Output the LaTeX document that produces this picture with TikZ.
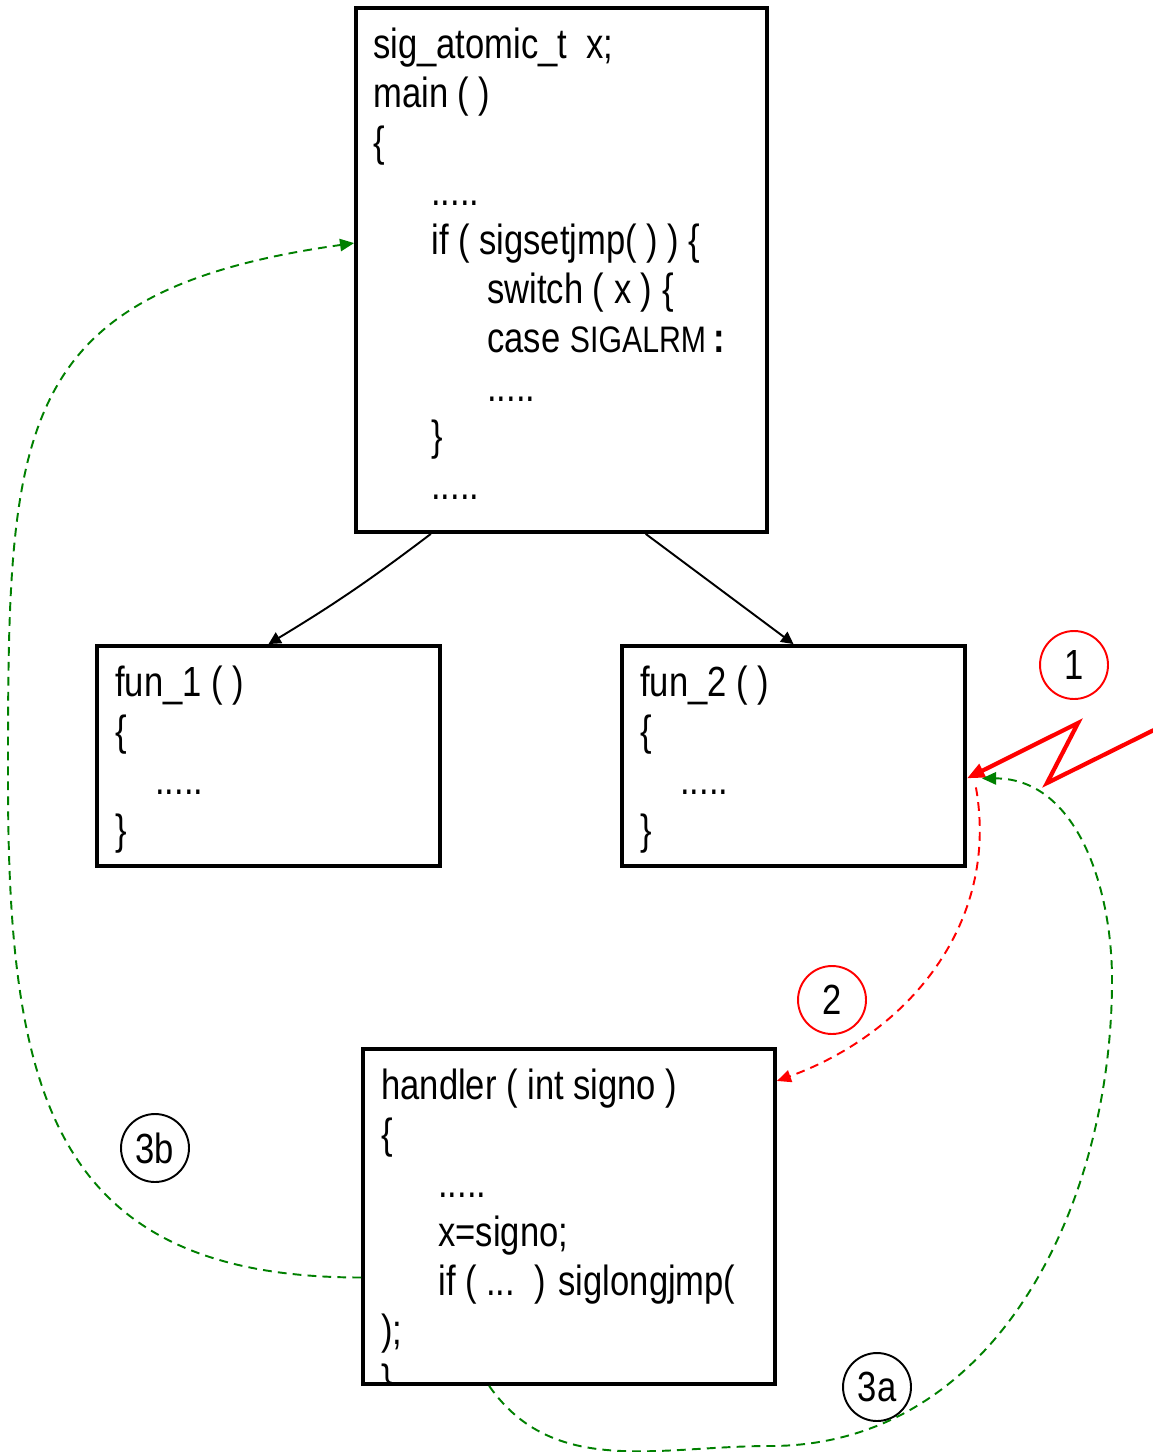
\documentclass[tikz,border=0pt]{standalone}
\usepackage{fontspec}
\setmainfont{Liberation Sans}[FakeStretch=0.82]
\usetikzlibrary{arrows.meta,fit,calc}

\begin{document}
\begin{tikzpicture}[x=0.02cm, y=-0.02cm,
    box/.style = {draw, line width=2.2pt, inner sep=0pt},
    code/.style = {align=left, inner sep=0pt, anchor=base west, font=\fontsize{24}{27.9}\selectfont},
    tag/.style = {draw, circle, line width=1.1pt, minimum size=1.36cm, inner sep=0pt, font=\fontsize{24}{28}\selectfont},
    call/.style = {line width=1.1pt, -{Triangle[length=7pt,width=7pt]}},
    jump/.style = {line width=1.1pt, dash pattern=on 5pt off 3.5pt, -{Triangle[length=8pt,width=7pt]}}]
    \useasboundingbox (0,0) rectangle (1152,1452);

    \node[box, fit={(356,8)(767,532)}] (main) {};
    \node[box, fit={(97,646)(440,866)}] (f1) {};
    \node[box, fit={(622,646)(965,866)}] (f2) {};
    \node[box, fit={(363,1049)(775,1384)}] (h) {};

    % code nodes are placed by the baseline of their last line
    \node[code] (maintext) at (373,500) {sig\_atomic\_t\ \ x;\\ main ( )\\ \{\\
        \hspace*{1.16cm}.....\\ \hspace*{1.16cm}if ( sigsetjmp( ) ) \{\\
        \hspace*{2.28cm}switch ( x ) \{\\
        \hspace*{2.28cm}case {\fontsize{21}{27.9}\selectfont SIGALRM}\,\textbf{:}\\
        \hspace*{2.28cm}.....\\ \hspace*{1.16cm}\}\\ \hspace*{1.16cm}.....};
    \node[code] (f1text) at (115,844) {fun\_1 ( )\\ \{\\ \hspace*{0.8cm}.....\\ \}};
    \node[code] (f2text) at (640,844) {fun\_2 ( )\\ \{\\ \hspace*{0.8cm}.....\\ \}};
    \begin{scope}
        \clip (h.north west) rectangle (h.south east);
        \node[code] (htext) at (381,1394) {handler ( int signo )\\ \{\\
            \hspace*{1.14cm}.....\\ \hspace*{1.14cm}x=signo;\\
            \hspace*{1.14cm}if ( ...\ \ ) siglongjmp(\\ );\\ \}};
    \end{scope}

    \node[tag, draw=red] (t1) at (1074,665) {1};
    \node[tag, draw=red] (t2) at (832,1000) {2};
    \node[tag] (t3b) at (155,1148) {3b};
    \node[tag] (t3a) at (877,1387) {3a};

    \draw[call] ($(main.south west)!0.185!(main.south east)$) to[bend left=3] (f1.north);
    \draw[call] ($(main.south west)!0.703!(main.south east)$) -- (f2.north);

    \coordinate (bolt) at (1160,727);
    \coordinate (hit) at ($(f2.north east)!0.6!(f2.south east)$);
    \draw[red, line width=2.4pt, -{Triangle[length=10pt,width=8pt]}]
        (bolt) -- (1047,783) -- (1078,723) -- (hit);

    \draw[jump, red] ($(hit)+(9,9)$) to[out=-80,in=20] ($(h.north east)!0.1!(h.south east)$);
    \draw[jump, green!50!black] ($(h.south west)!0.308!(h.south east)$)
        to[out=-55,in=180] (770,1446) to[out=0,in=-90] (1112,980) to[out=90,in=0] ($(hit)+(15,0)$);
    \draw[jump, green!50!black] ($(h.north west)!0.68!(h.south west)$)
        to[out=180,in=-90,looseness=1.3] (8,780) to[out=90,in=188,looseness=1.4] ($(main.north west)!0.449!(main.south west)$);
\end{tikzpicture}
\end{document}
